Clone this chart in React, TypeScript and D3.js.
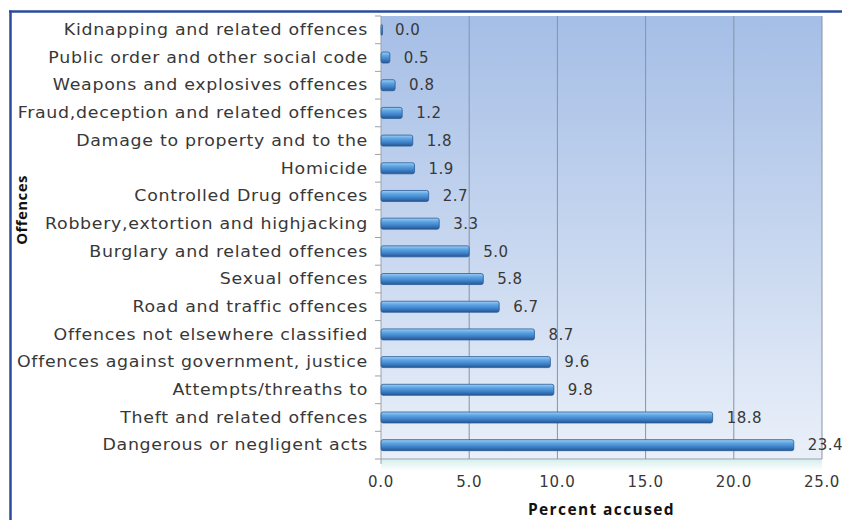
import React from "react";
import * as d3 from "d3";

const categories = [
  "Kidnapping and related offences",
  "Public order and other social code",
  "Weapons and explosives offences",
  "Fraud,deception and related offences",
  "Damage to property and to the",
  "Homicide",
  "Controlled Drug offences",
  "Robbery,extortion and highjacking",
  "Burglary and related offences",
  "Sexual offences",
  "Road and traffic offences",
  "Offences not elsewhere classified",
  "Offences against government, justice",
  "Attempts/threaths to",
  "Theft and related offences",
  "Dangerous or negligent acts",
];
const values = [0.0, 0.5, 0.8, 1.2, 1.8, 1.9, 2.7, 3.3, 5.0, 5.8, 6.7, 8.7, 9.6, 9.8, 18.8, 23.4];
const xTicks = [0, 5, 10, 15, 20, 25];
const xTitle = "Percent accused";
const yTitle = "Offences";

const W = 842;
const H = 520;
const plot = { left: 381, right: 822, top: 16, bottom: 459 };
const FONT = "'DejaVu Sans', sans-serif";
const STRETCH = 1.16;

export default function App() {
  const x = d3.scaleLinear().domain([0, 25]).range([plot.left, plot.right]);
  const y = d3.scaleBand<string>().domain(categories).range([plot.top, plot.bottom]).paddingInner(0).paddingOuter(0);
  const bw = y.bandwidth();
  const barH = 11;

  return (
    <svg width={W} height={H} style={{ position: "absolute", left: 0, top: 0, background: "#fff" }}>
      <defs>
        <linearGradient id="bg" x1="0" y1="0" x2="0" y2="1">
          <stop offset="0" stopColor="#a5bee6" />
          <stop offset="0.5" stopColor="#c6d6ef" />
          <stop offset="1" stopColor="#eaf0f9" />
        </linearGradient>
        <linearGradient id="bar" x1="0" y1="0" x2="0" y2="1">
          <stop offset="0" stopColor="#9fd0f5" />
          <stop offset="0.3" stopColor="#5fa6e3" />
          <stop offset="0.65" stopColor="#3f82cb" />
          <stop offset="1" stopColor="#25568f" />
        </linearGradient>
        <linearGradient id="refl" x1="0" y1="0" x2="0" y2="1">
          <stop offset="0" stopColor="#d6eeee" />
          <stop offset="1" stopColor="#ffffff" />
        </linearGradient>
      </defs>

      {/* frame */}
      <line x1={9} x2={W} y1={11.5} y2={11.5} stroke="#2b4aa0" strokeWidth={2.5} />
      <line x1={10.5} x2={10.5} y1={10.5} y2={H} stroke="#2b4aa0" strokeWidth={2.5} />

      {/* plot background */}
      <rect x={plot.left} y={plot.top} width={plot.right - plot.left} height={plot.bottom - plot.top} fill="url(#bg)" />
      <rect x={plot.left} y={plot.bottom} width={plot.right - plot.left} height={12} fill="url(#refl)" />

      {/* grid */}
      {xTicks.slice(1).map((t) => (
        <line key={t} x1={x(t)} x2={x(t)} y1={plot.top} y2={plot.bottom} stroke="#8593a8" strokeWidth={1} />
      ))}

      {/* axes */}
      <line x1={plot.left} x2={plot.left} y1={plot.top} y2={plot.bottom + 5} stroke="#9aa3ad" strokeWidth={1} />
      <line x1={plot.left} x2={plot.right} y1={plot.bottom} y2={plot.bottom} stroke="#9aa3ad" strokeWidth={1} />
      {categories.map((c, i) => (
        <line key={"t" + i} x1={plot.left - 6} x2={plot.left} y1={(y(c) as number)} y2={(y(c) as number)} stroke="#9aa3ad" />
      ))}
      <line x1={plot.left - 6} x2={plot.left} y1={plot.bottom} y2={plot.bottom} stroke="#9aa3ad" />

      {/* bars */}
      {categories.map((c, i) => {
        const cy = (y(c) as number) + bw / 2;
        const w = Math.max(x(values[i]) - x(0), 1.5);
        return (
          <g key={c}>
            <rect x={x(0)} y={cy - barH / 2} width={w} height={barH} rx={2} fill="url(#bar)" stroke="#2a5c98" strokeWidth={0.8} />
            <text x={x(values[i]) + 14} y={cy} dy="0.35em" fontFamily={FONT} fontSize={15} fill="#383838" letterSpacing={0.5}>
              {values[i].toFixed(1)}
            </text>
          </g>
        );
      })}

      {/* category labels */}
      {categories.map((c) => (
        <g key={"l" + c} transform={`translate(368,${(y(c) as number) + bw / 2}) scale(${STRETCH},1)`}>
          <text x={0} y={0} dy="0.35em" textAnchor="end" fontFamily={FONT} fontSize={15} fill="#383838" letterSpacing={0.6}>
            {c}
          </text>
        </g>
      ))}

      {/* x tick labels */}
      {xTicks.map((t) => (
        <text key={"x" + t} x={x(t)} y={482} dy="0.35em" textAnchor="middle" fontFamily={FONT} fontSize={15} fill="#383838" letterSpacing={0.7}>
          {t.toFixed(1)}
        </text>
      ))}

      <text x={(plot.left + plot.right) / 2} y={510} dy="0.35em" textAnchor="middle" fontFamily="'Open Sans', sans-serif" fontWeight="bold" fontSize={15.5} letterSpacing={1.4} fill="#111">
        {xTitle}
      </text>
      <text transform={`translate(22,${210}) rotate(-90)`} dy="0.35em" textAnchor="middle" fontFamily="'Open Sans', sans-serif" fontWeight="bold" fontSize={15} letterSpacing={0.4} fill="#111">
        {yTitle}
      </text>
    </svg>
  );
}
